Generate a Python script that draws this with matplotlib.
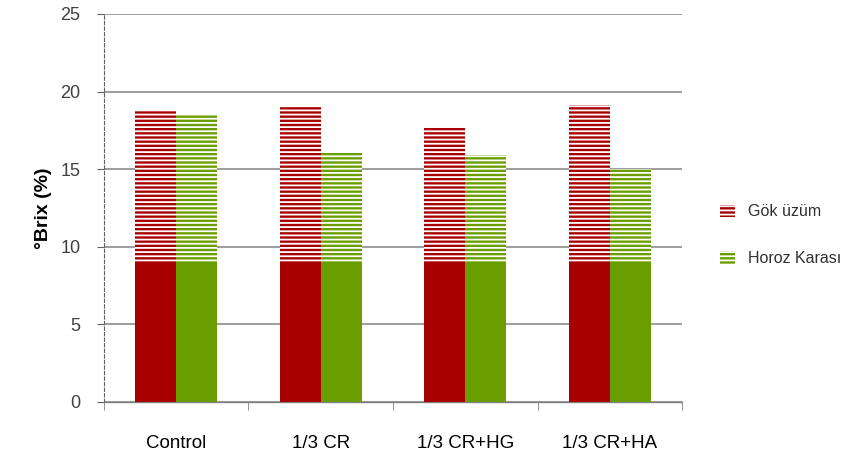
import matplotlib
matplotlib.use("Agg")
import matplotlib.pyplot as plt
import numpy as np

plt.rcParams["font.family"] = ["Liberation Sans", "DejaVu Sans"]
plt.rcParams["hatch.color"] = "white"
plt.rcParams["hatch.linewidth"] = 1.3

# --- data ---
treatments = ["Control", "1/3 CR", "1/3 CR+HG", "1/3 CR+HA"]
gok_uzum = [18.75, 19.1, 17.7, 19.15]
horoz_karasi = [18.55, 16.1, 15.9, 15.0]
series_names = ["Gök üzüm", "Horoz Karası"]

red = "#A80000"
green = "#6A9E00"
stripe_from = 9.0  # stripes start here (scan artefact in original)

fig = plt.figure(figsize=(8.58, 4.61), dpi=100)
ax = fig.add_axes([0.1212, 0.128, 0.6737, 0.8417])

x = np.arange(len(treatments))
w = 0.284

for vals, off, col, name in [(gok_uzum, -w / 2, red, series_names[0]),
                             (horoz_karasi, w / 2, green, series_names[1])]:
    ax.bar(x + off, vals, w, color=col, linewidth=0, zorder=3, label=name,
           hatch="----")
    ax.bar(x + off, stripe_from, w, color=col, linewidth=0, zorder=4)

ax.set_xlim(-0.5, len(treatments) - 0.5)
ax.set_ylim(0, 25)
ax.set_yticks(np.arange(0, 26, 5))
ax.yaxis.grid(True, color="#8c8c8c", linewidth=1.2, zorder=0)
ax.set_axisbelow(True)

for s in ["right", "top"]:
    ax.spines[s].set_visible(False)
ax.spines["left"].set_color("#606060")
ax.spines["left"].set_linestyle((0, (3, 2)))
ax.spines["left"].set_linewidth(0.8)
ax.spines["bottom"].set_color("#808080")
ax.spines["bottom"].set_linewidth(1.0)

ax.set_xticks(x)
ax.set_xticklabels(treatments, fontsize=13.5)
ax.tick_params(axis="x", length=0, pad=24)
ax.set_xticks(np.arange(-0.5, len(treatments), 1), minor=True)
ax.tick_params(axis="x", which="minor", length=6, color="#808080", direction="out")
ax.tick_params(axis="y", length=5, color="#606060", labelsize=13,
               labelcolor="#404040", pad=12)

ax.set_ylabel("°Brix (%)", fontsize=14, fontweight="bold", labelpad=6)

ax.legend(loc="center left", bbox_to_anchor=(1.04, 0.43), frameon=False,
          fontsize=11.5, handlelength=1.0, handleheight=0.8, labelspacing=2.0,
          labelcolor="#303030")

fig.savefig("out.png", dpi=100)
